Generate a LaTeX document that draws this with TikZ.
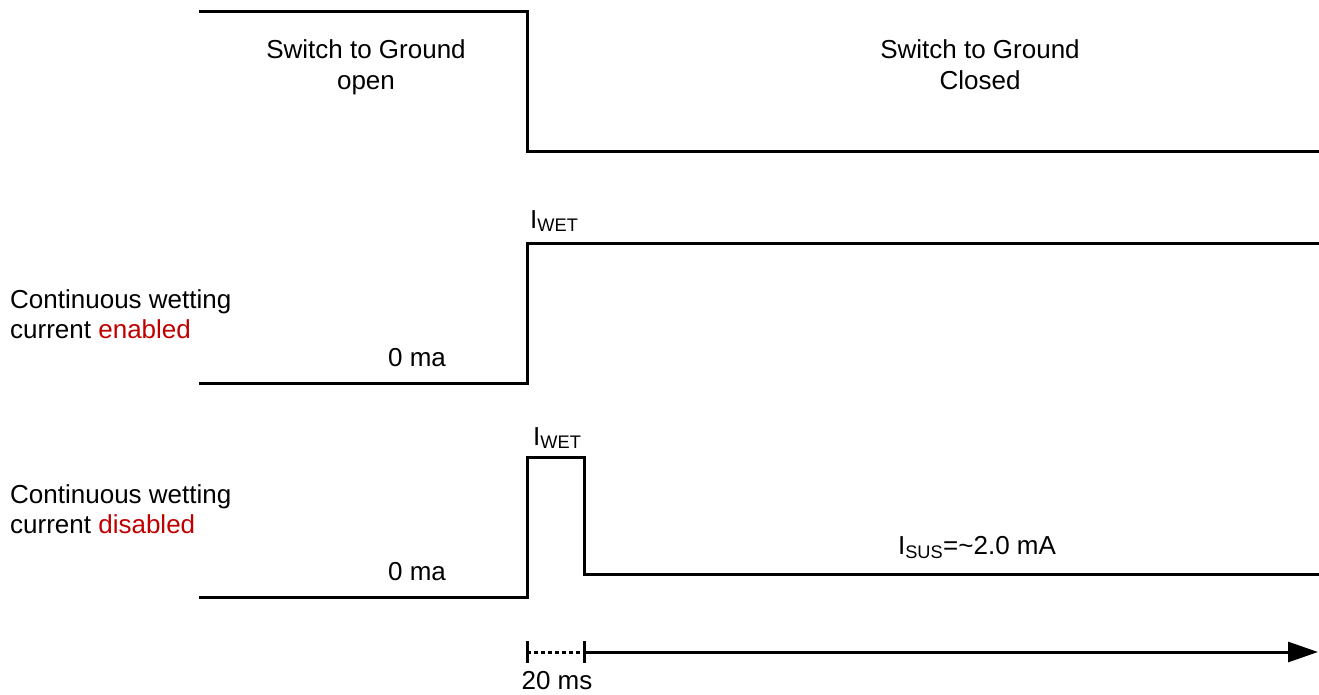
\documentclass[tikz,border=0pt]{standalone}
\usepackage{fontspec}
\setmainfont{Liberation Sans}
\usetikzlibrary{arrows.meta}
\definecolor{redtxt}{RGB}{192,0,0}
\begin{document}
\begin{tikzpicture}[x=1pt,y=-1pt,
  wave/.style={line width=3pt,line cap=rect,line join=miter},
  lbl/.style={font=\fontsize{26}{31}\selectfont,inner sep=0pt,align=center},
  lbll/.style={font=\fontsize{26}{30}\selectfont,inner sep=0pt,align=left,anchor=base west},
  tick/.style={line width=3pt}]
\useasboundingbox (0,0) rectangle (1319,694);
% waveform 1
\coordinate (w1a) at (200,11);
\coordinate (w1b) at (527,11);
\coordinate (w1c) at (527,151);
\coordinate (w1d) at (1319,151);
\draw[wave] (w1a) -- (w1b) -- (w1c) -- (w1d);
% waveform 2
\coordinate (w2a) at (200,383);
\coordinate (w2b) at (527,383);
\coordinate (w2c) at (527,243);
\coordinate (w2d) at (1319,243);
\draw[wave] (w2a) -- (w2b) -- (w2c) -- (w2d);
% waveform 3
\coordinate (w3a) at (200,597);
\coordinate (w3b) at (527,597);
\coordinate (w3c) at (527,457);
\coordinate (w3d) at (584,457);
\coordinate (w3e) at (584,574);
\coordinate (w3f) at (1319,574);
\draw[wave] (w3a) -- (w3b) -- (w3c) -- (w3d) -- (w3e) -- (w3f);
% time axis
\coordinate (t0) at (527,652);
\coordinate (t1) at (584,652);
\coordinate (tend) at (1318,652);
\draw[tick] (527,641) -- (527,663);
\draw[tick] (584,641) -- (584,663);
\draw[line width=3pt,dash pattern=on 4pt off 3pt] (t0) -- (t1);
\draw[line width=3pt,-{Triangle[length=30pt,width=20pt]}] (t1) -- (tend);
% labels
\node[lbl,anchor=base] (sw1) at (366,89) {Switch to Ground\\open};
\node[lbl,anchor=base] (sw2) at (980,89) {Switch to Ground\\Closed};
\node[lbll] (en) at (10,338) {Continuous wetting\\current \textcolor{redtxt}{enabled}};
\node[lbll] (dis) at (10,533) {Continuous wetting\\current \textcolor{redtxt}{disabled}};
\node[lbl,anchor=base] (z1) at (417,366) {0 ma};
\node[lbl,anchor=base] (z2) at (417,580) {0 ma};
\node[lbl,anchor=base west] (iw1) at (530,228) {I\textsubscript{WET}};
\node[lbl,anchor=base west] (iw2) at (533,445) {I\textsubscript{WET}};
\node[lbl,anchor=base] (isus) at (977,554) {I\textsubscript{SUS}=\textasciitilde2.0 mA};
\node[lbl,anchor=base] (ms) at (557,689) {20 ms};
\end{tikzpicture}
\end{document}
